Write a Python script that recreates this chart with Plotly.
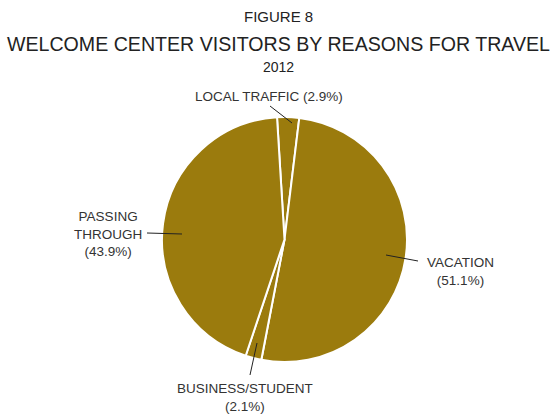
import plotly.graph_objects as go

categories = ["LOCAL TRAFFIC", "VACATION", "BUSINESS/STUDENT", "PASSING THROUGH"]
values = [2.9, 51.1, 2.1, 43.9]
label_texts = ["LOCAL TRAFFIC (2.9%)", "VACATION<br>(51.1%)", "BUSINESS/STUDENT<br>(2.1%)", "PASSING<br>THROUGH<br>(43.9%)"]

W, H = 557, 414
FONT = "Liberation Sans, Arial, Helvetica, sans-serif"
GOLD = "#9B7B0D"

fig = go.Figure(go.Pie(
    labels=categories, values=values, sort=False, direction="clockwise", rotation=-3.5,
    marker=dict(colors=[GOLD] * 4, line=dict(color="white", width=2)),
    textinfo="none", hoverinfo="label+percent", showlegend=False,
    domain=dict(x=[162 / W, 407 / W], y=[1 - 362 / H, 1 - 117 / H]),
))

def px(x, y):
    return x / W, 1 - y / H

# label positions (pixel coords of text center) and leader lines
label_pos = [(269, 96), (460, 271), (245, 397), (108, 234)]
leaders = [((270, 106), (292, 123)), ((418, 261), (386, 255)), ((257, 343), (250, 375)), ((147, 233), (182, 234))]

annotations = []
for txt, (lx, ly) in zip(label_texts, label_pos):
    x, y = px(lx, ly)
    annotations.append(dict(x=x, y=y, xref="paper", yref="paper", text=txt, showarrow=False,
                            font=dict(family=FONT, size=13.5, color="#333333"), align="center",
                            xanchor="center", yanchor="middle"))

titles = [("FIGURE 8", 17, 15), ("WELCOME CENTER VISITORS BY REASONS FOR TRAVEL", 44, 19.6), ("2012", 67, 14)]
for t, y, s in titles:
    annotations.append(dict(x=0.5, y=1 - y / H, xref="paper", yref="paper", text=t, showarrow=False,
                            font=dict(family=FONT, size=s, color="#222222"), xanchor="center", yanchor="middle"))

shapes = []
for (a, b) in leaders:
    x0, y0 = px(*a)
    x1, y1 = px(*b)
    shapes.append(dict(type="line", xref="paper", yref="paper", x0=x0, y0=y0, x1=x1, y1=y1,
                       line=dict(color="#222222", width=1)))

fig.update_layout(width=W, height=H, margin=dict(l=0, r=0, t=0, b=0),
                  paper_bgcolor="white", plot_bgcolor="white",
                  annotations=annotations, shapes=shapes)

fig.write_html("out.html", config={"displayModeBar": False},
               post_script="document.body.style.margin='0';document.body.style.overflow='hidden';")
